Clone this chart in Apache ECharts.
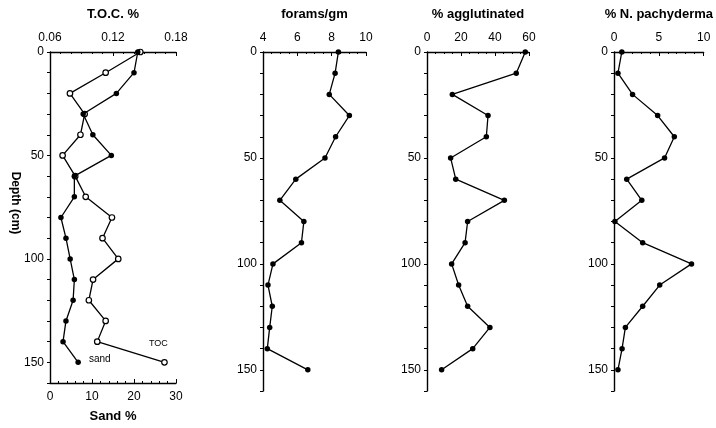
<!DOCTYPE html>
<html>
<head>
<meta charset="utf-8">
<script src="https://cdn.jsdelivr.net/npm/echarts@6/dist/echarts.min.js"></script>
<style>
  html, body { margin: 0; padding: 0; background: #fff; }
  #chart { width: 716px; height: 428px; }
</style>
</head>
<body>
<div id="chart"></div>
<script>
// sample depths (cm), shared by every panel
const depths = [0, 10, 20, 30, 40, 50, 60, 70, 80, 90, 100, 110, 120, 130, 140, 150];

// panel 1
const tocPct = [0.146, 0.113, 0.079, 0.093, 0.089, 0.072, 0.084, 0.094, 0.119, 0.110, 0.125, 0.101, 0.097, 0.113, 0.105, 0.169];
const sandPct = [20.9, 20.0, 15.8, 7.9, 10.2, 14.6, 5.8, 5.8, 2.6, 3.8, 4.8, 5.8, 5.5, 3.8, 3.1, 6.7];
// panel 2
const foramsPerGm = [8.39, 8.2, 7.86, 9.03, 8.23, 7.61, 5.91, 4.98, 6.38, 6.24, 4.58, 4.29, 4.54, 4.39, 4.25, 6.61];
// panel 3
const agglutinatedPct = [57.8, 52.5, 14.9, 35.9, 34.9, 13.9, 16.9, 45.5, 23.9, 22.4, 14.5, 18.6, 23.9, 37.0, 26.9, 8.6];
// panel 4
const pachydermaPct = [0.87, 0.44, 2.07, 4.87, 6.73, 5.64, 1.42, 3.1, 0.1, 3.2, 8.65, 5.1, 3.2, 1.27, 0.9, 0.44];

const black = '#000';
const font = '"Liberation Sans", Arial, sans-serif';

// pair each value with its depth: [x, depth]
function pairs(vals) {
  return vals.map((v, i) => [v, depths[i]]);
}

function depthAxis(i) {
  return {
    type: 'value', gridIndex: i, inverse: true, min: 0, max: 160, interval: 10,
    axisLine: { show: true, onZero: false, lineStyle: { color: black, width: 1.4 } },
    axisTick: { show: true, length: 3, lineStyle: { color: black, width: 1 } },
    axisLabel: {
      formatter: v => (v % 50 === 0 ? String(v) : ''),
      color: black, fontSize: 12, fontFamily: font, margin: 6
    },
    splitLine: { show: false }
  };
}

function valueAxis(i, pos, min, max, interval, minorSplit, name, nameGap) {
  return {
    type: 'value', gridIndex: i, position: pos, min: min, max: max, interval: interval,
    name: name, nameLocation: 'middle', nameGap: nameGap,
    nameTextStyle: { fontWeight: 'bold', fontSize: 13, color: black, fontFamily: font },
    axisLine: { show: true, onZero: false, lineStyle: { color: black, width: 1.4 } },
    axisTick: { show: true, inside: true, length: 4, lineStyle: { color: black, width: 1 } },
    minorTick: { show: true, splitNumber: minorSplit, length: 2, lineStyle: { color: black, width: 1 } },
    axisLabel: { color: black, fontSize: 12, fontFamily: font, margin: 8 },
    splitLine: { show: false }
  };
}

function lineSeries(xi, yi, data, hollow) {
  return {
    type: 'line', xAxisIndex: xi, yAxisIndex: yi, data: data,
    symbol: 'circle', symbolSize: 5.5, showAllSymbol: true,
    lineStyle: { color: black, width: 1.3 },
    itemStyle: hollow ? { color: '#fff', borderColor: black, borderWidth: 1.2 } : { color: black },
    z: hollow ? 3 : 4
  };
}

// labels at the last point of the two panel-1 curves
const tocData = pairs(tocPct);
tocData[tocData.length - 1] = {
  value: tocData[tocData.length - 1],
  label: { show: true, formatter: 'TOC', position: 'top', offset: [-6, -6], fontSize: 9, color: black, fontFamily: font }
};
const sandData = pairs(sandPct);
sandData[sandData.length - 1] = {
  value: sandData[sandData.length - 1],
  label: { show: true, formatter: 'sand', position: 'right', distance: 8, offset: [0, -3], fontSize: 10, color: black, fontFamily: font }
};

const chart = echarts.init(document.getElementById('chart'));
chart.setOption({
  animation: false,
  backgroundColor: '#fff',
  grid: [
    { left: 50, top: 52, width: 126, height: 339 },
    { left: 263, top: 52, width: 103, height: 339 },
    { left: 427, top: 52, width: 102, height: 339 },
    { left: 614, top: 52, width: 92, height: 339 }
  ],
  xAxis: [
    valueAxis(0, 'top', 0.06, 0.18, 0.06, 6, 'T.O.C. %', 31),
    valueAxis(0, 'bottom', 0, 30, 10, 5, 'Sand %', 27),
    valueAxis(1, 'top', 4, 10, 2, 4, 'forams/gm', 31),
    valueAxis(2, 'top', 0, 60, 20, 4, '% agglutinated', 31),
    valueAxis(3, 'top', 0, 10, 5, 5, '% N. pachyderma', 31)
  ],
  yAxis: [depthAxis(0), depthAxis(1), depthAxis(2), depthAxis(3)],
  graphic: [{
    type: 'text', x: 15, y: 203, rotation: -Math.PI / 2,
    style: {
      text: 'Depth (cm)', fill: black, font: 'bold 12px ' + font,
      textAlign: 'center', textVerticalAlign: 'middle'
    }
  }],
  series: [
    lineSeries(0, 0, tocData, true),
    lineSeries(1, 0, sandData, false),
    lineSeries(2, 1, pairs(foramsPerGm), false),
    lineSeries(3, 2, pairs(agglutinatedPct), false),
    lineSeries(4, 3, pairs(pachydermaPct), false)
  ]
});
</script>
</body>
</html>
